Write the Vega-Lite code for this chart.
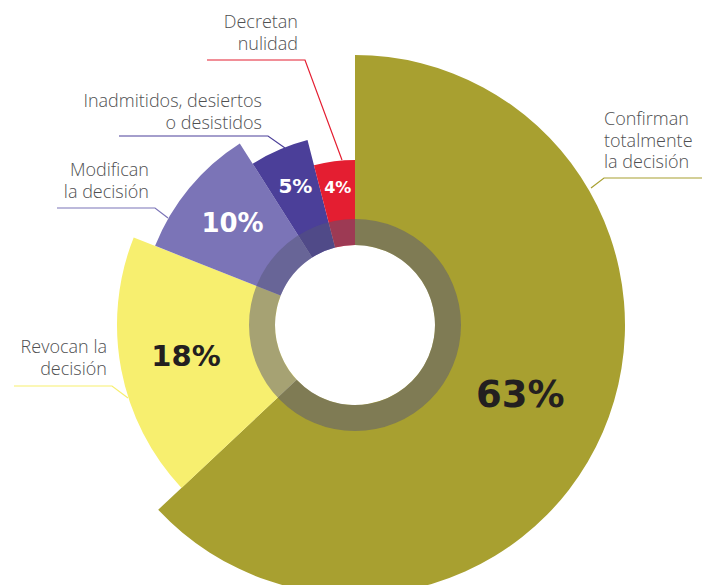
{
  "$schema": "https://vega.github.io/schema/vega-lite/v6.json",
  "width": 702,
  "height": 585,
  "autosize": {"type": "none"},
  "padding": 0,
  "background": "#ffffff",
  "view": {"stroke": null},
  "datasets": {
    "sectores": [
      {"categoria": "Confirman totalmente la decisión", "pct": 63, "orden": 1},
      {"categoria": "Revocan la decisión", "pct": 18, "orden": 2},
      {"categoria": "Modifican la decisión", "pct": 10, "orden": 3},
      {"categoria": "Inadmitidos, desiertos o desistidos", "pct": 5, "orden": 4},
      {"categoria": "Decretan nulidad", "pct": 4, "orden": 5}
    ],
    "etiquetas": [
      {"categoria": "Confirman totalmente la decisión", "texto": ["Confirman", "totalmente", "la decisión"], "ex": 249, "ey": 200},
      {"categoria": "Revocan la decisión", "texto": ["Revocan la", "decisión"], "ex": -248, "ey": -28},
      {"categoria": "Modifican la decisión", "texto": ["Modifican", "la decisión"], "ex": -206, "ey": 149},
      {"categoria": "Inadmitidos, desiertos o desistidos", "texto": ["Inadmitidos, desiertos", "o desistidos"], "ex": -93, "ey": 218},
      {"categoria": "Decretan nulidad", "texto": ["Decretan", "nulidad"], "ex": -57, "ey": 297}
    ],
    "guias": [
      {"categoria": "Confirman totalmente la decisión", "paso": 1, "gx": 236, "gy": 137},
      {"categoria": "Confirman totalmente la decisión", "paso": 2, "gx": 249, "gy": 147},
      {"categoria": "Confirman totalmente la decisión", "paso": 3, "gx": 347, "gy": 147},
      {"categoria": "Decretan nulidad", "paso": 1, "gx": -148, "gy": 265},
      {"categoria": "Decretan nulidad", "paso": 2, "gx": -50, "gy": 265},
      {"categoria": "Decretan nulidad", "paso": 3, "gx": -13, "gy": 165},
      {"categoria": "Inadmitidos, desiertos o desistidos", "paso": 1, "gx": -236, "gy": 189},
      {"categoria": "Inadmitidos, desiertos o desistidos", "paso": 2, "gx": -87, "gy": 189},
      {"categoria": "Inadmitidos, desiertos o desistidos", "paso": 3, "gx": -70, "gy": 177},
      {"categoria": "Modifican la decisión", "paso": 1, "gx": -298, "gy": 117},
      {"categoria": "Modifican la decisión", "paso": 2, "gx": -200, "gy": 117},
      {"categoria": "Modifican la decisión", "paso": 3, "gx": -187, "gy": 107},
      {"categoria": "Revocan la decisión", "paso": 1, "gx": -341, "gy": -61},
      {"categoria": "Revocan la decisión", "paso": 2, "gx": -243, "gy": -61},
      {"categoria": "Revocan la decisión", "paso": 3, "gx": -227, "gy": -73}
    ]
  },
  "layer": [
    {
      "data": {"name": "sectores"},
      "mark": {"type": "arc", "innerRadius": 80},
      "encoding": {
        "x": {"datum": 0, "type": "quantitative", "scale": {"domain": [-355, 347], "nice": false, "zero": false}, "axis": null},
        "y": {"datum": 0, "type": "quantitative", "scale": {"domain": [-260, 325], "nice": false, "zero": false}, "axis": null},
        "theta": {"field": "pct", "type": "quantitative", "stack": true},
        "radius": {"field": "pct", "type": "quantitative", "scale": {"type": "linear", "zero": false, "domain": [4, 5, 10, 18, 63], "range": [165, 191, 215, 238, 270]}},
        "color": {
          "field": "categoria",
          "type": "nominal",
          "scale": {
            "domain": ["Confirman totalmente la decisión", "Revocan la decisión", "Modifican la decisión", "Inadmitidos, desiertos o desistidos", "Decretan nulidad"],
            "range": ["#a8a030", "#f7ef6f", "#7b74b7", "#4b3f99", "#e41e31"]
          },
          "legend": null
        },
        "order": {"field": "orden", "type": "quantitative"}
      }
    },
    {
      "data": {"values": [{"elemento": "anillo"}]},
      "mark": {"type": "arc", "radius": 106, "radius2": 80, "theta": 0, "theta2": 6.2832, "fill": "#555577", "fillOpacity": 0.5},
      "encoding": {
        "x": {"datum": 0, "type": "quantitative", "axis": null},
        "y": {"datum": 0, "type": "quantitative", "axis": null}
      }
    },
    {
      "data": {"name": "sectores"},
      "transform": [{"calculate": "datum.pct + '%'", "as": "rotulo"}],
      "mark": {"type": "text", "font": "DejaVu Sans", "fontWeight": "bold", "align": "center", "baseline": "middle"},
      "encoding": {
        "x": {"datum": 0, "type": "quantitative", "axis": null},
        "y": {"datum": 0, "type": "quantitative", "axis": null},
        "theta": {"field": "pct", "type": "quantitative", "stack": true},
        "radius": {"field": "pct", "type": "quantitative", "scale": {"type": "linear", "zero": false, "domain": [4, 5, 10, 18, 63], "range": [138, 150, 159, 172, 180]}},
        "order": {"field": "orden", "type": "quantitative"},
        "text": {"field": "rotulo", "type": "nominal"},
        "size": {"field": "pct", "type": "quantitative", "scale": {"type": "linear", "zero": false, "domain": [4, 5, 10, 18, 63], "range": [16, 20, 26, 29, 37]}, "legend": null},
        "color": {"condition": {"test": "datum.pct >= 18", "value": "#231f20"}, "value": "#ffffff"}
      }
    },
    {
      "data": {"name": "guias"},
      "mark": {"type": "line", "strokeWidth": 1.2},
      "encoding": {
        "x": {"field": "gx", "type": "quantitative", "axis": null},
        "y": {"field": "gy", "type": "quantitative", "axis": null},
        "color": {"field": "categoria", "type": "nominal", "legend": null},
        "order": {"field": "paso", "type": "quantitative"}
      }
    },
    {
      "data": {"name": "etiquetas"},
      "transform": [{"filter": "datum.categoria != 'Confirman totalmente la decisión'"}],
      "mark": {"type": "text", "align": "right", "baseline": "alphabetic", "font": "Open Sans", "fontWeight": 300, "fontSize": 18, "lineHeight": 21.5, "color": "#4f5052"},
      "encoding": {
        "x": {"field": "ex", "type": "quantitative", "axis": null},
        "y": {"field": "ey", "type": "quantitative", "axis": null},
        "text": {"field": "texto", "type": "nominal"}
      }
    },
    {
      "data": {"name": "etiquetas"},
      "transform": [{"filter": "datum.categoria == 'Confirman totalmente la decisión'"}],
      "mark": {"type": "text", "align": "left", "baseline": "alphabetic", "font": "Open Sans", "fontWeight": 300, "fontSize": 18, "lineHeight": 21.5, "color": "#4f5052"},
      "encoding": {
        "x": {"field": "ex", "type": "quantitative", "axis": null},
        "y": {"field": "ey", "type": "quantitative", "axis": null},
        "text": {"field": "texto", "type": "nominal"}
      }
    }
  ],
  "resolve": {"scale": {"radius": "independent"}}
}
